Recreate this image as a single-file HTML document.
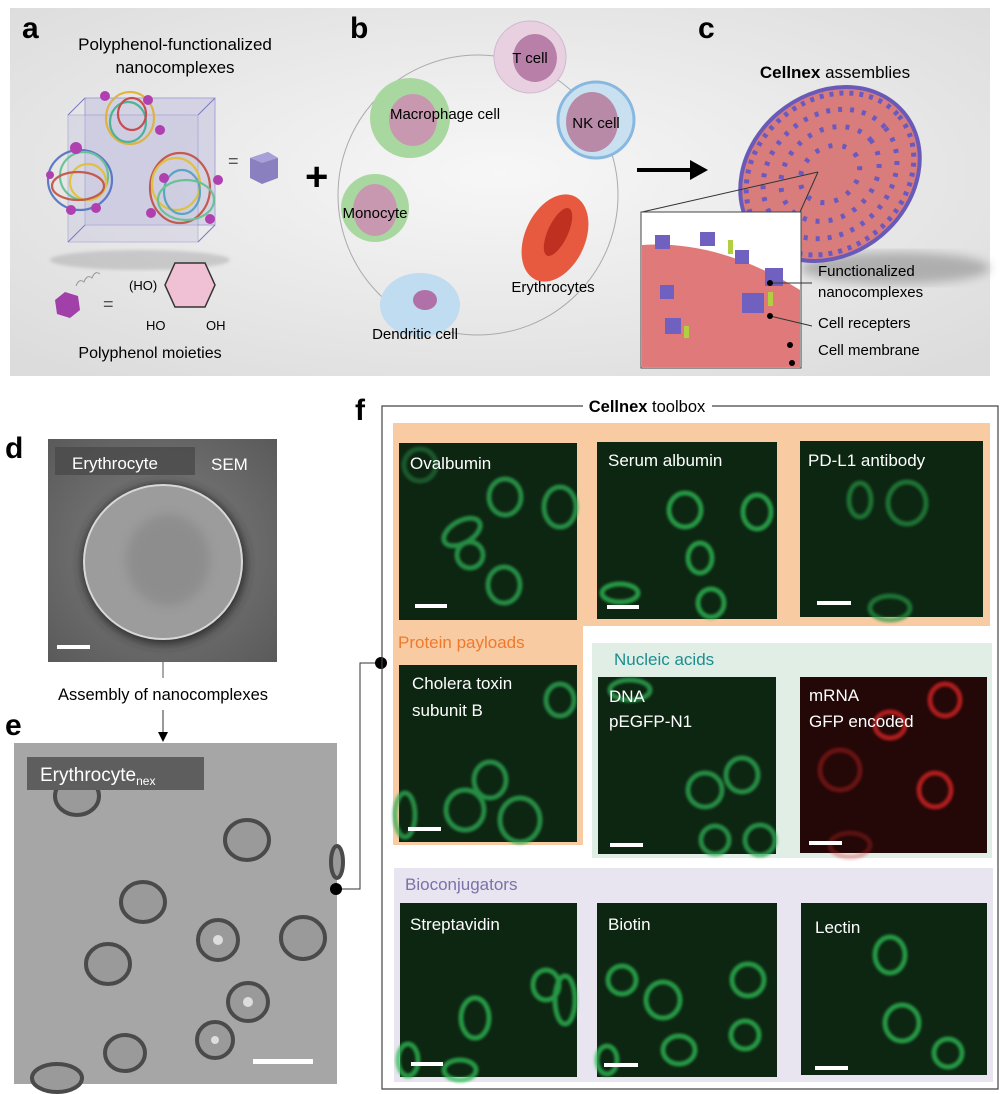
<!DOCTYPE html>
<html><head><meta charset="utf-8"><style>
html,body{margin:0;padding:0;background:#fff;}
svg{display:block;font-family:"Liberation Sans",Arial,sans-serif;}
</style></head><body>
<svg width="1000" height="1094" viewBox="0 0 1000 1094" xmlns="http://www.w3.org/2000/svg">
<defs>
<radialGradient id="bg" cx="0.5" cy="0.45" r="0.7">
<stop offset="0" stop-color="#f7f7f7"/><stop offset="1" stop-color="#dcdcdc"/></radialGradient>
<radialGradient id="sem" cx="0.5" cy="0.5" r="0.7"><stop offset="0" stop-color="#808080"/><stop offset="1" stop-color="#5a5a5a"/></radialGradient>
<filter id="bl"><feGaussianBlur stdDeviation="1.5"/></filter>
<filter id="gl"><feGaussianBlur stdDeviation="1.2"/></filter>
<filter id="bl4"><feGaussianBlur stdDeviation="5"/></filter>
</defs>

<rect x="10" y="8" width="980" height="368" fill="url(#bg)"/>
<text x="22" y="38" font-size="30" font-weight="bold">a</text>
<text x="350" y="38" font-size="30" font-weight="bold">b</text>
<text x="698" y="38" font-size="30" font-weight="bold">c</text>
<text x="175" y="50" font-size="17" text-anchor="middle">Polyphenol-functionalized</text>
<text x="175" y="73" font-size="17" text-anchor="middle">nanocomplexes</text>
<rect x="85" y="98" width="130" height="127" fill="#c8c6e0" opacity="0.6" stroke="#7a78c8"/>
<rect x="68" y="115" width="130" height="127" fill="#c8c6e0" opacity="0.4" stroke="#7a78c8"/>
<line x1="68" y1="115" x2="85" y2="98" stroke="#7a78c8"/><line x1="198" y1="115" x2="215" y2="98" stroke="#7a78c8"/>
<line x1="68" y1="242" x2="85" y2="225" stroke="#7a78c8"/><line x1="198" y1="242" x2="215" y2="225" stroke="#7a78c8"/>
<g fill="none" stroke-width="2.2" opacity="0.9">
<ellipse cx="130" cy="118" rx="24" ry="26" stroke="#e0b030"/><ellipse cx="128" cy="122" rx="18" ry="20" stroke="#40b090"/><ellipse cx="132" cy="114" rx="14" ry="16" stroke="#c84040"/>
<ellipse cx="80" cy="180" rx="32" ry="30" stroke="#5070c0"/><ellipse cx="84" cy="176" rx="24" ry="24" stroke="#60c090"/><ellipse cx="88" cy="182" rx="18" ry="18" stroke="#e0c030"/><ellipse cx="78" cy="186" rx="26" ry="14" stroke="#c05040"/>
<ellipse cx="180" cy="188" rx="30" ry="35" stroke="#c05040"/><ellipse cx="176" cy="184" rx="24" ry="26" stroke="#e0c030"/><ellipse cx="182" cy="192" rx="18" ry="22" stroke="#50a0c0"/><ellipse cx="186" cy="200" rx="28" ry="20" stroke="#60c090"/>
</g>
<g fill="#b040b0">
<circle cx="105" cy="96" r="5"/><circle cx="148" cy="100" r="5"/><circle cx="160" cy="130" r="5"/><circle cx="76" cy="148" r="6"/><circle cx="164" cy="178" r="5"/><circle cx="218" cy="180" r="5"/><circle cx="71" cy="210" r="5"/><circle cx="96" cy="208" r="5"/><circle cx="151" cy="213" r="5"/><circle cx="210" cy="219" r="5"/><circle cx="50" cy="175" r="4"/>
</g>
<ellipse cx="140" cy="260" rx="90" ry="10" fill="#aaa" opacity="0.5" filter="url(#bl)"/>
<text x="228" y="167" font-size="18" fill="#555">=</text>
<path d="M250 158 L268 152 L278 158 L278 178 L262 184 L250 178 Z" fill="#8a80c0"/><path d="M250 158 L268 152 L278 158 L262 163 Z" fill="#a8a0d8"/>
<text x="305" y="190" font-size="40" font-weight="bold">+</text>
<polygon points="55,300 65,292 78,296 80,310 70,318 57,314" fill="#a040a8"/>
<path d="M76 286 q3 -8 8 -4 q3 -8 8 -4 q3 -8 8 -4" fill="none" stroke="#999"/>
<text x="103" y="310" font-size="18" fill="#555">=</text>
<polygon points="175,268 205,268 215,290 205,312 175,312 165,290" fill="#f0c0d4" stroke="#333" stroke-width="1.5" transform="translate(0,-5)"/>
<text x="129" y="290" font-size="13">(HO)</text>
<text x="146" y="330" font-size="13">HO</text><text x="206" y="330" font-size="13">OH</text>
<text x="150" y="358" font-size="16" text-anchor="middle">Polyphenol moieties</text>
<circle cx="478" cy="195" r="140" fill="none" stroke="#aaa" stroke-width="1"/>
<circle cx="530" cy="57" r="36" fill="#e8d0e0" stroke="#d0b8d0"/><ellipse cx="535" cy="58" rx="22" ry="24" fill="#b880a8"/>
<text x="530" y="63" font-size="15" text-anchor="middle">T cell</text>
<circle cx="410" cy="118" r="40" fill="#a8d8a0"/><ellipse cx="413" cy="120" rx="24" ry="26" fill="#c898b0"/>
<text x="445" y="119" font-size="15" text-anchor="middle">Macrophage cell</text>
<circle cx="596" cy="120" r="38" fill="#c8e0f0" stroke="#88b8e0" stroke-width="3"/><ellipse cx="592" cy="122" rx="26" ry="30" fill="#b88aa8"/>
<text x="596" y="128" font-size="15" text-anchor="middle">NK cell</text>
<circle cx="375" cy="208" r="34" fill="#a8d8a0"/><ellipse cx="375" cy="210" rx="22" ry="26" fill="#c898b0"/>
<text x="375" y="218" font-size="15" text-anchor="middle">Monocyte</text>
<ellipse cx="555" cy="238" rx="30" ry="46" fill="#e85a40" transform="rotate(25 555 238)"/><ellipse cx="558" cy="232" rx="10" ry="26" fill="#c03020" transform="rotate(25 558 232)"/>
<text x="553" y="292" font-size="15" text-anchor="middle">Erythrocytes</text>
<ellipse cx="420" cy="305" rx="40" ry="32" fill="#c0dcf0"/><ellipse cx="425" cy="300" rx="12" ry="10" fill="#b070a8"/>
<text x="415" y="339" font-size="15" text-anchor="middle">Dendritic cell</text>
<line x1="637" y1="170" x2="692" y2="170" stroke="#000" stroke-width="4"/><polygon points="690,160 708,170 690,180" fill="#000"/>
<ellipse cx="895" cy="268" rx="95" ry="16" fill="#999" opacity="0.7" filter="url(#bl4)"/>
<g transform="rotate(-40 830 174)">
<ellipse cx="830" cy="174" rx="96" ry="80" fill="#d97c7c" stroke="#6a5ab8" stroke-width="4"/>
<ellipse cx="830" cy="174" rx="90" ry="74" fill="none" stroke="#6a5ac0" stroke-width="5" stroke-dasharray="4 6"/>
<ellipse cx="830" cy="174" rx="72" ry="59" fill="none" stroke="#6a5ac0" stroke-width="5" stroke-dasharray="4 8"/>
<ellipse cx="830" cy="174" rx="53" ry="43" fill="none" stroke="#6a5ac0" stroke-width="5" stroke-dasharray="4 9"/>
<ellipse cx="830" cy="174" rx="32" ry="26" fill="none" stroke="#6a5ac0" stroke-width="5" stroke-dasharray="4 10"/>
</g>
<text x="835" y="78" font-size="17" text-anchor="middle"><tspan font-weight="bold">Cellnex</tspan> assemblies</text>
<line x1="642" y1="212" x2="818" y2="172" stroke="#333"/><line x1="800" y1="212" x2="818" y2="172" stroke="#333"/>
<rect x="641" y="212" width="160" height="156" fill="#fff" stroke="#444"/>
<path d="M642 245 Q720 240 800 290 L800 367 L642 367 Z" fill="#e07a7a"/>
<g fill="#7060c0"><rect x="655" y="235" width="15" height="14"/><rect x="700" y="232" width="15" height="14"/><rect x="735" y="250" width="14" height="14"/><rect x="765" y="268" width="18" height="18"/><rect x="660" y="285" width="14" height="14"/><rect x="742" y="293" width="22" height="20"/><rect x="665" y="318" width="16" height="16"/></g>
<g fill="#b0d040"><rect x="728" y="240" width="5" height="14"/><rect x="768" y="292" width="5" height="14"/><rect x="684" y="326" width="5" height="12"/></g>
<line x1="770" y1="283" x2="812" y2="283" stroke="#333"/><line x1="770" y1="316" x2="812" y2="326" stroke="#333"/>
<circle cx="770" cy="283" r="3"/><circle cx="770" cy="316" r="3"/><circle cx="790" cy="345" r="3"/><circle cx="792" cy="363" r="3"/>
<text x="818" y="276" font-size="15">Functionalized</text>
<text x="818" y="297" font-size="15">nanocomplexes</text>
<text x="818" y="328" font-size="15">Cell recepters</text>
<text x="818" y="355" font-size="15">Cell membrane</text>

<text x="5" y="458" font-size="30" font-weight="bold">d</text>
<rect x="48" y="439" width="229" height="223" fill="url(#sem)"/>
<rect x="55" y="447" width="140" height="28" fill="#4a4a4a" opacity="0.8"/>
<text x="72" y="469" font-size="17" fill="#fff">Erythrocyte</text>
<text x="211" y="470" font-size="17" fill="#fff">SEM</text>
<ellipse cx="164" cy="564" rx="82" ry="80" fill="#2a2a2a" filter="url(#bl4)"/>
<ellipse cx="163" cy="562" rx="79" ry="77" fill="#9c9c9c" stroke="#d8d8d8" stroke-width="2"/>
<ellipse cx="168" cy="560" rx="42" ry="46" fill="#808080" opacity="0.5" filter="url(#bl4)"/>
<rect x="57" y="645" width="33" height="4" fill="#fff"/>
<line x1="163" y1="662" x2="163" y2="678" stroke="#555"/>
<text x="163" y="700" font-size="16.5" text-anchor="middle">Assembly of nanocomplexes</text>
<line x1="163" y1="710" x2="163" y2="735" stroke="#333"/><polygon points="158,732 168,732 163,742" fill="#000"/>
<text x="5" y="735" font-size="30" font-weight="bold">e</text>
<rect x="14" y="743" width="323" height="341" fill="#a6a6a6"/>
<g fill="#9a9a9a" stroke="#4a4a4a" stroke-width="4">
<ellipse cx="77" cy="796" rx="22" ry="19"/><ellipse cx="247" cy="840" rx="22" ry="20"/><ellipse cx="143" cy="902" rx="22" ry="20"/>
<ellipse cx="218" cy="940" rx="20" ry="20"/><ellipse cx="303" cy="938" rx="22" ry="21"/><ellipse cx="108" cy="964" rx="22" ry="20"/>
<ellipse cx="248" cy="1002" rx="20" ry="19"/><ellipse cx="215" cy="1040" rx="18" ry="18"/><ellipse cx="125" cy="1053" rx="20" ry="18"/><ellipse cx="57" cy="1078" rx="25" ry="14"/><ellipse cx="337" cy="862" rx="6" ry="16"/>
</g>
<g fill="#ddd"><circle cx="218" cy="940" r="5"/><circle cx="248" cy="1002" r="5"/><circle cx="215" cy="1040" r="4"/></g>
<rect x="27" y="757" width="177" height="33" fill="#5e5e5e"/>
<text x="40" y="781" font-size="19" fill="#fff">Erythrocyte<tspan font-size="12" dy="4">nex</tspan></text>
<rect x="253" y="1059" width="60" height="5" fill="#fff"/>
<polyline points="336,889 360,889 360,663 381,663" fill="none" stroke="#333"/>
<circle cx="336" cy="889" r="6"/><circle cx="381" cy="663" r="6"/>

<text x="355" y="420" font-size="30" font-weight="bold">f</text>
<polyline points="583,406 382,406 382,1089 998,1089 998,406 712,406" fill="none" stroke="#444" stroke-width="1.2"/>
<text x="647" y="412" font-size="16.5" text-anchor="middle"><tspan font-weight="bold">Cellnex</tspan> toolbox</text>
<path d="M393 423 H990 V626 H583 V845 H393 Z" fill="#f9cba3"/>
<rect x="592" y="643" width="400" height="215" fill="#e0eee6"/>
<rect x="394" y="868" width="599" height="214" fill="#e8e4f0"/>
<text x="398" y="648" font-size="17" fill="#ef7a2c">Protein payloads</text>
<text x="614" y="665" font-size="17" fill="#1c8e8e">Nucleic acids</text>
<text x="405" y="890" font-size="17" fill="#7a72a8">Bioconjugators</text>

<g font-size="17" fill="#fff">
<rect x="399" y="443" width="178" height="177" fill="#0d2612"/>
<g fill="none" stroke="#2fae55" stroke-width="5" opacity="0.75" filter="url(#gl)"><ellipse cx="462" cy="532" rx="20" ry="11" transform="rotate(-30 462 532)"/><ellipse cx="504" cy="585" rx="16" ry="18"/><ellipse cx="470" cy="555" rx="13" ry="13"/><ellipse cx="505" cy="497" rx="16" ry="18"/><ellipse cx="560" cy="507" rx="16" ry="20"/><ellipse cx="420" cy="465" rx="16" ry="16" opacity="0.5"/></g>
<text x="410" y="469">Ovalbumin</text><rect x="415" y="604" width="32" height="4"/>
<rect x="597" y="442" width="180" height="177" fill="#0d2612"/>
<g fill="none" stroke="#2fbe55" stroke-width="5" opacity="0.75" filter="url(#gl)"><ellipse cx="620" cy="593" rx="18" ry="9"/><ellipse cx="685" cy="510" rx="16" ry="17"/><ellipse cx="700" cy="558" rx="12" ry="15"/><ellipse cx="711" cy="603" rx="13" ry="14"/><ellipse cx="757" cy="512" rx="14" ry="17"/></g>
<text x="608" y="466">Serum albumin</text><rect x="607" y="605" width="32" height="4"/>
<rect x="800" y="441" width="183" height="176" fill="#0d2612"/>
<g fill="none" stroke="#279a45" stroke-width="5" opacity="0.65" filter="url(#gl)"><ellipse cx="907" cy="503" rx="19" ry="21"/><ellipse cx="860" cy="500" rx="11" ry="17"/><ellipse cx="890" cy="608" rx="20" ry="12"/></g>
<text x="808" y="466">PD-L1 antibody</text><rect x="817" y="601" width="34" height="4"/>
<rect x="399" y="665" width="178" height="177" fill="#0d2612"/>
<g fill="none" stroke="#2fae55" stroke-width="5" opacity="0.75" filter="url(#gl)"><ellipse cx="465" cy="810" rx="19" ry="20"/><ellipse cx="520" cy="820" rx="20" ry="22"/><ellipse cx="405" cy="815" rx="10" ry="22"/><ellipse cx="490" cy="780" rx="16" ry="18"/><ellipse cx="560" cy="700" rx="14" ry="16"/></g>
<text x="412" y="689">Cholera toxin</text><text x="412" y="716">subunit B</text><rect x="408" y="827" width="33" height="4"/>
<rect x="598" y="677" width="178" height="177" fill="#0d2612"/>
<g fill="none" stroke="#2fae55" stroke-width="5" opacity="0.75" filter="url(#gl)"><ellipse cx="742" cy="775" rx="16" ry="17"/><ellipse cx="705" cy="790" rx="17" ry="17"/><ellipse cx="715" cy="840" rx="14" ry="14"/><ellipse cx="760" cy="840" rx="15" ry="15"/><ellipse cx="630" cy="690" rx="20" ry="10"/></g>
<text x="609" y="702">DNA</text><text x="609" y="727">pEGFP-N1</text><rect x="610" y="843" width="33" height="4"/>
<rect x="800" y="677" width="187" height="176" fill="#240808"/>
<g fill="none" stroke="#d02020" stroke-width="5" opacity="0.8" filter="url(#gl)"><ellipse cx="945" cy="700" rx="15" ry="16"/><ellipse cx="890" cy="725" rx="15" ry="13"/><ellipse cx="935" cy="790" rx="16" ry="17"/><ellipse cx="840" cy="770" rx="20" ry="20" opacity="0.5"/><ellipse cx="850" cy="845" rx="20" ry="12" opacity="0.4"/></g>
<text x="809" y="701">mRNA</text><text x="809" y="727">GFP encoded</text><rect x="809" y="841" width="33" height="4"/>
<rect x="400" y="903" width="177" height="174" fill="#0d2612"/>
<g fill="none" stroke="#2fbe55" stroke-width="5" opacity="0.75" filter="url(#gl)"><ellipse cx="475" cy="1018" rx="14" ry="20"/><ellipse cx="460" cy="1070" rx="16" ry="10"/><ellipse cx="546" cy="985" rx="13" ry="15"/><ellipse cx="408" cy="1060" rx="10" ry="16"/><ellipse cx="565" cy="1000" rx="10" ry="24"/></g>
<text x="410" y="930">Streptavidin</text><rect x="411" y="1062" width="32" height="4"/>
<rect x="597" y="903" width="180" height="174" fill="#0d2612"/>
<g fill="none" stroke="#2fbe55" stroke-width="5" opacity="0.75" filter="url(#gl)"><ellipse cx="622" cy="980" rx="14" ry="14"/><ellipse cx="663" cy="1000" rx="17" ry="18"/><ellipse cx="748" cy="980" rx="16" ry="16"/><ellipse cx="745" cy="1035" rx="14" ry="14"/><ellipse cx="679" cy="1050" rx="16" ry="14"/><ellipse cx="607" cy="1060" rx="10" ry="14"/></g>
<text x="608" y="930">Biotin</text><rect x="604" y="1063" width="34" height="4"/>
<rect x="801" y="903" width="186" height="172" fill="#0d2612"/>
<g fill="none" stroke="#2fbe55" stroke-width="5" opacity="0.75" filter="url(#gl)"><ellipse cx="890" cy="955" rx="15" ry="18"/><ellipse cx="902" cy="1023" rx="17" ry="18"/><ellipse cx="948" cy="1053" rx="14" ry="14"/></g>
<text x="815" y="933">Lectin</text><rect x="815" y="1066" width="33" height="4"/>
</g>
</svg>
</body></html>
